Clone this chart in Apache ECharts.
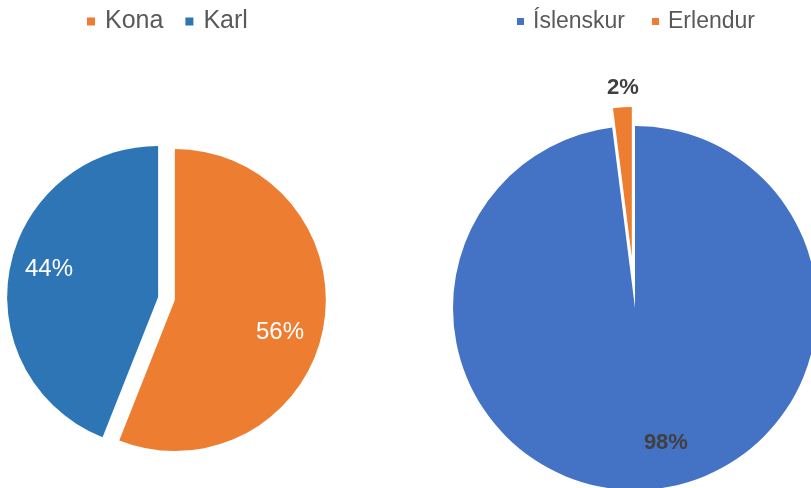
<!DOCTYPE html>
<html>
<head>
<meta charset="utf-8">
<script src="https://cdn.jsdelivr.net/npm/echarts@6/dist/echarts.min.js"></script>
<style>
  html, body { margin: 0; padding: 0; background: #fff; }
  #chart { width: 811px; height: 488px; }
</style>
</head>
<body>
<div id="chart"></div>
<script>
// left pie: gender
const genderNames = ["Kona", "Karl"];
const genderValues = [56, 44];
const genderColors = ["#ED7D31", "#2E75B6"];

// right pie: language
const langNames = ["Íslenskur", "Erlendur"];
const langValues = [98, 2];
const langColors = ["#4472C4", "#ED7D31"];

const font = "Liberation Sans, Arial, sans-serif";

const chart = echarts.init(document.getElementById("chart"));

// small nudges so labels sit where the original puts them
const genderLabelShift = [[28, 18], [-32, -13]];
const langLabelShift = [[25, 41], [-4, -91]];

chart.setOption({
  animation: false,
  legend: [
    {
      data: genderNames,
      left: 82, top: 4,
      icon: "rect", itemWidth: 8, itemHeight: 8, itemGap: 22,
      textStyle: { fontFamily: font, fontSize: 25, color: "#595959", padding: [0, 0, 0, 5] }
    },
    {
      data: langNames.map((n, i) => ({ name: n, itemStyle: { color: langColors[i] } })),
      left: 512, top: 5,
      icon: "rect", itemWidth: 7, itemHeight: 7, itemGap: 27,
      textStyle: { fontFamily: font, fontSize: 23, color: "#595959", padding: [0, 0, 0, 4] }
    }
  ],
  series: [
    {
      type: "pie",
      center: [166.5, 298.5],
      radius: 151,
      startAngle: 90,
      selectedMode: "multiple",
      selectedOffset: 8.5,
      emphasis: { disabled: true },
      label: {
        position: "inside", formatter: "{d}%",
        fontFamily: font, fontSize: 24, color: "#fff"
      },
      labelLayout: p => ({ dx: genderLabelShift[p.dataIndex][0], dy: genderLabelShift[p.dataIndex][1] }),
      data: genderNames.map((n, i) => ({
        name: n, value: genderValues[i], selected: true,
        itemStyle: { color: genderColors[i] }
      }))
    },
    {
      // main slice, not pulled out
      type: "pie",
      center: [635, 308],
      radius: 182,
      startAngle: 90,
      emphasis: { disabled: true },
      label: {
        position: "inside", formatter: "{d}%",
        fontFamily: font, fontSize: 22, fontWeight: "bold", color: "#404040"
      },
      labelLayout: p => ({ dx: langLabelShift[0][0], dy: langLabelShift[0][1] }),
      data: langNames.map((n, i) => ({
        name: n, value: langValues[i],
        itemStyle: { color: i === 0 ? langColors[0] : "transparent" },
        label: { show: i === 0 }
      }))
    },
    {
      // pulled out small slice
      type: "pie",
      center: [635, 308],
      radius: 150,
      startAngle: 90,
      selectedMode: "single",
      selectedOffset: 51,
      emphasis: { disabled: true },
      label: {
        position: "inside", formatter: "{d}%",
        fontFamily: font, fontSize: 22, fontWeight: "bold", color: "#404040"
      },
      labelLayout: p => ({ dx: langLabelShift[1][0], dy: langLabelShift[1][1] }),
      data: langNames.map((n, i) => ({
        name: n, value: langValues[i], selected: i === 1,
        itemStyle: { color: i === 1 ? langColors[1] : "transparent" },
        label: { show: i === 1 }
      }))
    }
  ]
});
</script>
</body>
</html>
